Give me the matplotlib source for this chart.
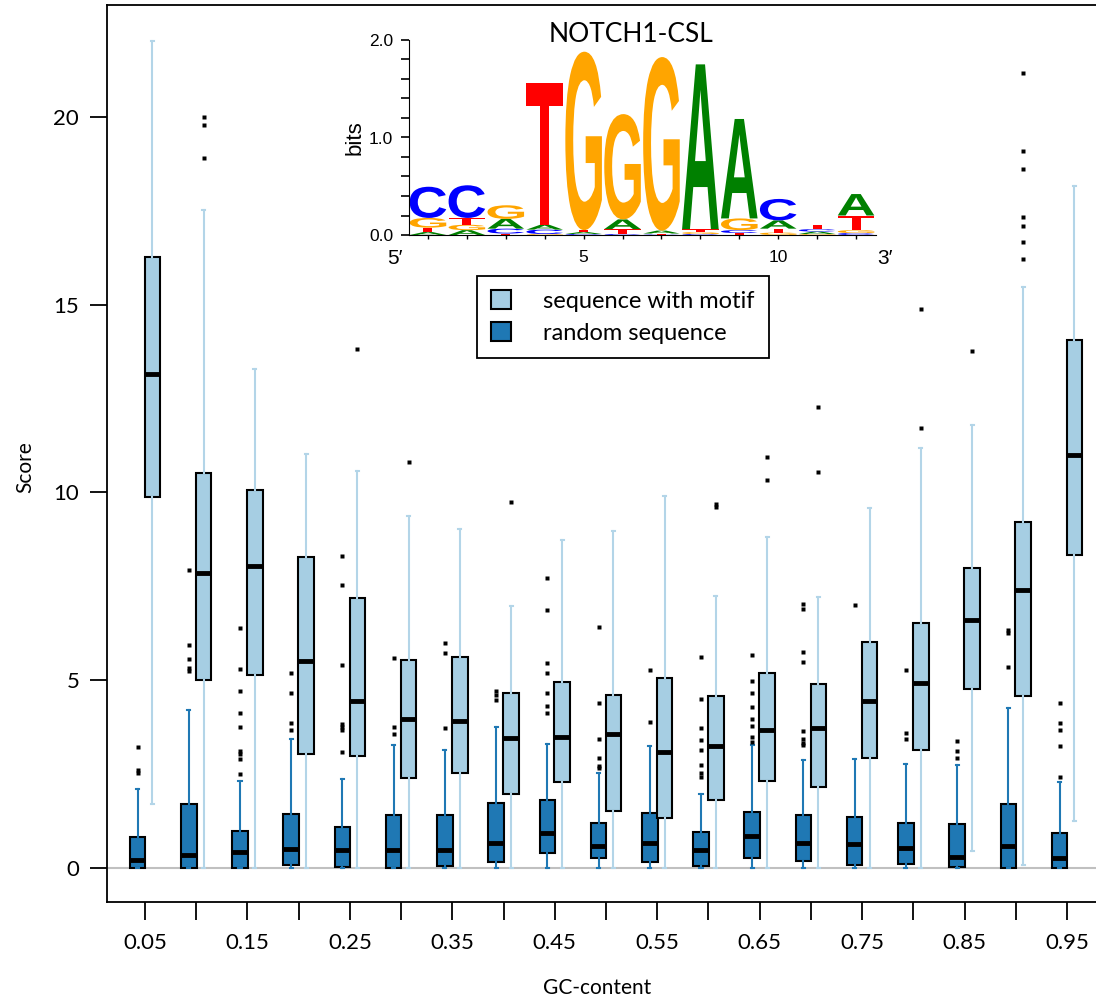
import matplotlib
matplotlib.use("Agg")
import matplotlib.pyplot as plt
import numpy as np
from matplotlib.patches import Patch, PathPatch
from matplotlib.textpath import TextPath
from matplotlib.font_manager import FontProperties
from matplotlib.transforms import Affine2D

plt.rcParams['font.family'] = ['Lato', 'DejaVu Sans']

gc_content = [0.05, 0.10, 0.15, 0.20, 0.25, 0.30, 0.35, 0.40, 0.45, 0.50,
              0.55, 0.60, 0.65, 0.70, 0.75, 0.80, 0.85, 0.90, 0.95]
gc_labels = ['0.05', '', '0.15', '', '0.25', '', '0.35', '', '0.45', '',
             '0.55', '', '0.65', '', '0.75', '', '0.85', '', '0.95']

# random sequence scores: quartiles, whisker ends and outliers per GC bin
rand_q1 = [0, 0, 0, 0.08, 0.03, 0, 0.06, 0.15, 0.39, 0.27,
           0.15, 0.06, 0.27, 0.20, 0.08, 0.12, 0.04, 0, 0]
rand_med = [0.21, 0.35, 0.43, 0.51, 0.48, 0.47, 0.47, 0.66, 0.94, 0.59,
            0.67, 0.47, 0.85, 0.66, 0.63, 0.54, 0.30, 0.58, 0.27]
rand_q3 = [0.83, 1.71, 0.99, 1.45, 1.09, 1.41, 1.40, 1.74, 1.80, 1.19,
           1.47, 0.97, 1.49, 1.42, 1.37, 1.21, 1.16, 1.70, 0.94]
rand_lo = [0] * 19
rand_hi = [2.11, 4.21, 2.33, 3.44, 2.37, 3.28, 3.14, 3.76, 3.29, 2.52,
           3.25, 1.98, 3.28, 2.88, 2.89, 2.76, 2.75, 4.25, 2.30]
rand_out = [
    [3.22, 2.61, 2.53],
    [7.94, 5.94, 5.57, 5.33, 5.25],
    [6.39, 5.30, 4.71, 4.12, 3.75, 3.12, 3.04, 2.90, 2.50],
    [5.19, 4.66, 3.86, 3.67],
    [8.31, 7.54, 5.41, 3.84, 3.76, 3.68, 3.09],
    [5.58, 3.76, 3.56],
    [5.98, 5.72, 3.72],
    [4.71, 4.61, 4.47],
    [7.71, 6.87, 5.45, 5.18, 4.65, 4.31, 4.14],
    [6.41, 4.39, 3.43, 2.92, 2.72, 2.66],
    [5.26, 3.88],
    [5.61, 4.49, 3.74, 3.40, 3.13, 2.73, 2.52, 2.43],
    [5.66, 4.97, 4.65, 4.28, 3.96, 3.77, 3.48, 3.35],
    [7.02, 6.91, 5.74, 5.48, 3.64, 3.44, 3.34, 3.27],
    [7.00],
    [5.26, 3.60, 3.44],
    [3.38, 3.11, 2.93],
    [6.34, 6.26, 5.34],
    [4.39, 3.87, 3.68, 3.26, 2.42],
]

# sequences with the motif inserted
motif_q1 = [9.88, 5.01, 5.14, 3.04, 2.98, 2.41, 2.52, 1.97, 2.28, 1.52,
            1.32, 1.81, 2.32, 2.15, 2.94, 3.14, 4.78, 4.57, 8.34]
motif_med = [13.16, 7.86, 8.04, 5.51, 4.45, 3.98, 3.91, 3.45, 3.50, 3.57,
             3.10, 3.25, 3.68, 3.74, 4.44, 4.92, 6.61, 7.40, 10.99]
motif_q3 = [16.27, 10.52, 10.07, 8.28, 7.19, 5.55, 5.63, 4.67, 4.96, 4.62,
            5.07, 4.59, 5.18, 4.90, 6.02, 6.53, 7.98, 9.21, 14.05]
motif_lo = [1.70, 0, 0, 0, 0, 0, 0, 0, 0, 0,
            0, 0, 0, 0, 0, 0, 0.46, 0.09, 1.24]
motif_hi = [22.02, 17.52, 13.29, 11.03, 10.58, 9.36, 9.04, 6.98, 8.73, 8.98,
            9.90, 7.24, 8.82, 7.21, 9.59, 11.18, 11.80, 15.46, 18.17]
motif_out = [
    [], [20.0, 19.79, 18.9], [], [], [13.82], [10.81], [], [9.74], [], [],
    [], [9.69, 9.60], [10.94, 10.32], [12.27, 10.54], [], [14.88, 11.72],
    [13.78], [21.18, 19.08, 18.61, 17.34, 17.10, 16.66, 16.21], [],
]

# information content (bits) of each base at motif positions 1..12
logo_pos = [1, 2, 3, 4, 5, 6, 7, 8, 9, 10, 11, 12]
bits_A = [0.03, 0.05, 0.10, 0.05, 0.02, 0.10, 0.03, 1.69, 1.02, 0.085, 0.025, 0.22]
bits_C = [0.32, 0.335, 0.05, 0.045, 0.01, 0.01, 0.005, 0.01, 0.03, 0.22, 0.025, 0.02]
bits_G = [0.10, 0.055, 0.14, 0.01, 1.83, 1.08, 1.78, 0.02, 0.12, 0.025, 0.01, 0.03]
bits_T = [0.045, 0.07, 0.015, 1.45, 0.02, 0.05, 0.01, 0.03, 0.02, 0.04, 0.045, 0.15]


def make_stats(q1, med, q3, lo, hi, out):
    return [dict(q1=a, med=b, q3=c, whislo=d, whishi=e, fliers=f)
            for a, b, c, d, e, f in zip(q1, med, q3, lo, hi, out)]


light = '#a6cee3'
dark = '#1f78b4'
offset = 0.0073
width = 0.0152

fig = plt.figure(figsize=(10.96, 9.97), dpi=100)
ax = fig.add_axes([107 / 1096, 95 / 997, 989 / 1096, 897 / 997])

ax.axhline(0, color='#c0c0c0', lw=1.5, zorder=1)

flier_style = dict(marker='s', markersize=3, markerfacecolor='black',
                   markeredgecolor='none')
for stats, shift, fill, wcol in [
        (make_stats(rand_q1, rand_med, rand_q3, rand_lo, rand_hi, rand_out), -offset, dark, dark),
        (make_stats(motif_q1, motif_med, motif_q3, motif_lo, motif_hi, motif_out), offset, light, '#b3d5e8')]:
    ax.bxp(stats, positions=np.array(gc_content) + shift, widths=width,
           patch_artist=True, manage_ticks=False, capwidths=0.003,
           boxprops=dict(facecolor=fill, edgecolor='black', linewidth=1.5),
           medianprops=dict(color='black', linewidth=3.5, solid_capstyle='butt'),
           whiskerprops=dict(color=wcol, linewidth=1.5),
           capprops=dict(color=wcol, linewidth=1.5),
           flierprops=flier_style)

ax.set_xlim(0.0129, 0.9783)
ax.set_ylim(-0.905, 22.98)
ax.set_xticks(gc_content)
ax.set_xticklabels(gc_labels)
ax.set_yticks([0, 5, 10, 15, 20])
ax.tick_params(axis='x', direction='out', length=13, width=1.3, pad=9, labelsize=16)
ax.tick_params(axis='y', direction='out', length=12, width=1.3, pad=8, labelsize=16)
ax.spines['right'].set_visible(False)
for s in ['left', 'top', 'bottom']:
    ax.spines[s].set_linewidth(1.3)

ax.set_xlabel('GC-content', fontsize=15)
ax.xaxis.set_label_coords(0.4955, -0.085)
ax.set_ylabel('Score', fontsize=15)
ax.yaxis.set_label_coords(-0.073, 0.485)

handles = [Patch(facecolor=light, edgecolor='black', linewidth=1.5),
           Patch(facecolor=dark, edgecolor='black', linewidth=1.5)]
leg = ax.legend(handles, ['sequence with motif', 'random sequence'],
                loc='upper left', bbox_to_anchor=(477 / 1096, 1 - 276 / 997),
                bbox_transform=fig.transFigure, fontsize=17, fancybox=False,
                framealpha=1, edgecolor='black', borderpad=0.6,
                borderaxespad=0, labelspacing=0.45, handlelength=0.85,
                handleheight=0.85, handletextpad=1.35)
leg.get_frame().set_linewidth(1.3)

# sequence logo inset
ins = fig.add_axes([408.5 / 1096, (997 - 235) / 997, 467 / 1096, 195 / 997])
ins.set_facecolor('none')
ins.set_xlim(0.5, 12.5)
ins.set_ylim(0, 2.0)
ins.spines['right'].set_visible(False)
ins.spines['top'].set_visible(False)

logo_font = FontProperties(family='Liberation Sans', weight='bold')
base_colors = {'A': '#008000', 'C': '#0000ff', 'G': '#ffa500', 'T': '#ff0000'}
for i, pos in enumerate(logo_pos):
    heights = {'A': bits_A[i], 'C': bits_C[i], 'G': bits_G[i], 'T': bits_T[i]}
    y0 = 0.0
    for base in sorted(heights, key=heights.get):
        h = heights[base]
        tp = TextPath((0, 0), base, size=1, prop=logo_font)
        bb = tp.get_extents()
        tr = (Affine2D().translate(-bb.x0, -bb.y0)
              .scale(0.94 / bb.width, h / bb.height)
              .translate(pos - 0.47, y0))
        ins.add_patch(PathPatch(tr.transform_path(tp), facecolor=base_colors[base],
                                edgecolor='none'))
        y0 += h

arial = ['Liberation Sans', 'DejaVu Sans']
ins.set_yticks([0, 1, 2])
ins.set_yticklabels(['0.0', '1.0', '2.0'], family=arial)
ins.set_yticks(np.arange(0, 2.01, 0.2), minor=True)
ins.set_xticks(logo_pos)
ins.set_xticklabels(['' if p not in (5, 10) else str(p) for p in logo_pos], family=arial)
ins.tick_params(axis='y', which='both', length=6, width=1.2, pad=5, labelsize=12.5)
ins.tick_params(axis='x', length=3, width=1, pad=8, labelsize=12.5)
ins.set_ylabel('bits', family=arial, fontsize=16)
ins.yaxis.set_label_coords(-0.093, 0.5)
ins.text(-0.03, -0.15, '5\u2032', transform=ins.transAxes, ha='center',
         va='baseline', fontsize=15, family=arial)
ins.text(1.02, -0.15, '3\u2032', transform=ins.transAxes, ha='center',
         va='baseline', fontsize=15, family=arial)
ins.text(0.476, 0.99, 'NOTCH1-CSL', transform=ins.transAxes, ha='center',
         va='baseline', fontsize=19)

fig.savefig('out.png', dpi=100)
